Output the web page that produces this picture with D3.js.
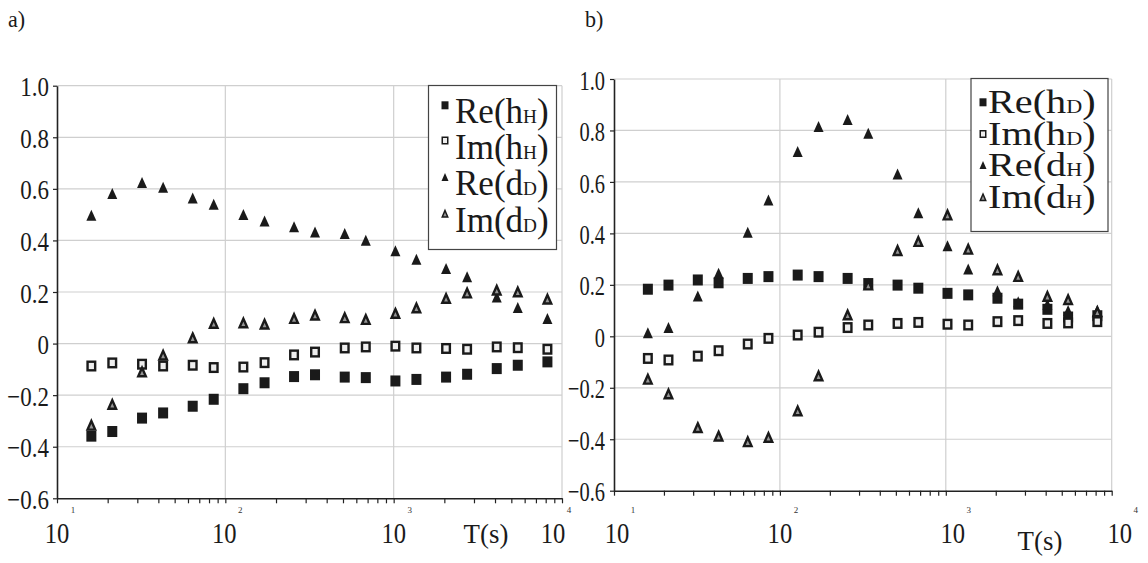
<!DOCTYPE html>
<html>
<head>
<meta charset="utf-8">
<script src="https://cdn.jsdelivr.net/npm/d3@7"></script>
<style>
  body { margin: 0; background: #fff; }
  svg { display: block; }
  svg text { font-family: "Liberation Serif", "Times New Roman", Tinos, "Noto Serif", "DejaVu Serif", serif !important; fill: #1a1a1a; }
</style>
</head>
<body>
<svg id="chart" width="1148" height="563"></svg>
<script>
// periods (s) shared by both panels
var periods = [16, 21.3, 32, 42.7, 64, 85.3, 128, 171, 256, 341, 512, 683, 1024, 1365, 2048, 2731, 4096, 5461, 8192];
var yTicks = [-0.6, -0.4, -0.2, 0, 0.2, 0.4, 0.6, 0.8, 1.0];
var decades = [1, 2, 3, 4];

// panel a)
var reHH = [-0.359, -0.341, -0.289, -0.269, -0.243, -0.216, -0.175, -0.152, -0.128, -0.121, -0.130, -0.132, -0.145, -0.139, -0.130, -0.119, -0.097, -0.084, -0.071];
var imHH = [-0.087, -0.075, -0.080, -0.087, -0.084, -0.093, -0.091, -0.074, -0.044, -0.033, -0.017, -0.013, -0.010, -0.017, -0.019, -0.022, -0.013, -0.016, -0.022];
var reDD = [0.498, 0.582, 0.625, 0.606, 0.565, 0.540, 0.501, 0.475, 0.453, 0.433, 0.427, 0.401, 0.360, 0.327, 0.291, 0.259, 0.181, 0.140, 0.097];
var imDD = [-0.317, -0.236, -0.110, -0.045, 0.022, 0.078, 0.080, 0.075, 0.097, 0.110, 0.100, 0.093, 0.117, 0.138, 0.175, 0.196, 0.207, 0.200, 0.172];
var labelsA = [["Re(h", "H", ")"], ["Im(h", "H", ")"], ["Re(d", "D", ")"], ["Im(d", "D", ")"]];

// panel b)
var reHD = [0.183, 0.199, 0.219, 0.208, 0.225, 0.232, 0.238, 0.232, 0.225, 0.205, 0.199, 0.187, 0.167, 0.161, 0.148, 0.125, 0.105, 0.075, 0.080];
var imHD = [-0.086, -0.092, -0.077, -0.056, -0.030, -0.008, 0.005, 0.016, 0.034, 0.044, 0.050, 0.054, 0.047, 0.044, 0.057, 0.061, 0.050, 0.052, 0.057];
var reDH = [0.014, 0.034, 0.157, 0.245, 0.404, 0.530, 0.718, 0.815, 0.843, 0.789, 0.631, 0.480, 0.352, 0.262, 0.177, 0.134, 0.125, 0.100, 0.100];
var imDH = [-0.167, -0.224, -0.355, -0.388, -0.410, -0.393, -0.290, -0.154, 0.083, 0.199, 0.333, 0.368, 0.471, 0.338, 0.258, 0.232, 0.155, 0.142, 0.095];
var labelsB = [["Re(h", "D", ")"], ["Im(h", "D", ")"], ["Re(d", "H", ")"], ["Im(d", "H", ")"]];

var svg = d3.select("#chart");
var kinds = ["fsq", "osq", "ftri", "otri"];

// marker helper: draws one marker shape centred on (cx, cy)
function marker(g, kind, cx, cy, w, h, sw) {
    if (kind == "fsq" || kind == "osq") {
        var open = kind == "osq";
        var s = open ? sw : 0;
        g.append("rect")
            .attr("x", cx - w / 2 + s / 2)
            .attr("y", cy - h / 2 + s / 2)
            .attr("width", w - s)
            .attr("height", h - s)
            .style("fill", open ? "#eeeeee" : "#1a1a1a")
            .style("stroke", open ? "#1a1a1a" : "none")
            .style("stroke-width", s);
    } else {
        var open = kind == "otri";
        var s = open ? sw : 0;
        var hw = w / 2 - s / 2, hh = h / 2 - s / 2;
        g.append("path")
            .attr("d", "M" + cx + "," + (cy - hh) + "L" + (cx + hw) + "," + (cy + hh) + "L" + (cx - hw) + "," + (cy + hh) + "Z")
            .style("fill", open ? "#959595" : "#1a1a1a")
            .style("stroke", open ? "#1a1a1a" : "none")
            .style("stroke-width", s);
    }
}

function drawPanel(p) {
    var x = d3.scaleLog().domain([10, 10000]).range([p.x0, p.x1]);
    var y = d3.scaleLinear().domain([-0.6, 1.0]).range([p.y0, p.y1]);
    var g = svg.append("g");

    // grid
    g.selectAll(".hgrid")
        .data(yTicks.filter(function(d) { return d > -0.6; }))
        .enter().append("line")
        .attr("x1", p.x0).attr("x2", p.x1)
        .attr("y1", function(d) { return y(d); })
        .attr("y2", function(d) { return y(d); })
        .style("stroke", "#cfcfcf").style("stroke-width", 1.2);

    g.selectAll(".vgrid")
        .data([100, 1000, 10000])
        .enter().append("line")
        .attr("x1", function(d) { return x(d); })
        .attr("x2", function(d) { return x(d); })
        .attr("y1", p.y1).attr("y2", p.y0)
        .style("stroke", "#cfcfcf").style("stroke-width", 1.2);

    // x axis with minor ticks
    var xt = [];
    for (var e = 1; e < 4; e++) for (var k = 1; k < 10; k++) xt.push(k * Math.pow(10, e));
    xt.push(10000);
    var xAxis = g.append("g")
        .attr("transform", "translate(0," + p.y0 + ")")
        .call(d3.axisBottom(x).tickValues(xt).tickSize(5).tickSizeOuter(0).tickFormat(""));
    xAxis.select(".domain").style("stroke", "#222").style("stroke-width", 1.6);
    xAxis.selectAll(".tick line").style("stroke", "#222").style("stroke-width", 1.2);

    // y axis
    var ys = p.yLabScale;
    var yAxis = g.append("g")
        .attr("transform", "translate(" + p.x0 + ",0)")
        .call(d3.axisLeft(y).tickValues(yTicks).tickSize(4).tickSizeOuter(0)
            .tickFormat(function(d) { return d == 0 ? "0" : d3.format(".1f")(d); }));
    yAxis.attr("font-family", null).attr("font-size", null);
    yAxis.select(".domain").style("stroke", "#222").style("stroke-width", 1.6);
    yAxis.selectAll(".tick line").style("stroke", "#222").style("stroke-width", 1.2);
    yAxis.selectAll(".tick text")
        .attr("x", -p.yLabGap / ys)
        .attr("dy", "0.36em")
        .attr("transform", "scale(" + ys + ",1)")
        .style("font-size", "28px")
        .style("fill", "#1a1a1a");

    // decade labels "10" with small exponent
    decades.forEach(function(e, i) {
        var cx = x(Math.pow(10, e)) + p.labNudge[i];
        g.append("text")
            .attr("transform", "translate(" + cx + "," + p.labBase + ") scale(0.82,1)")
            .attr("text-anchor", "middle")
            .style("font-size", "30px")
            .text("10");
        g.append("text")
            .attr("x", cx + 16)
            .attr("y", p.labBase - 30)
            .attr("text-anchor", "middle")
            .style("font-size", "9px")
            .style("fill", "#333")
            .text(e);
    });

    g.append("text")
        .attr("transform", "translate(" + p.tsX + "," + p.tsBase + ") scale(0.96,1)")
        .attr("text-anchor", "middle")
        .style("font-size", "28px")
        .text("T(s)");

    g.append("text")
        .attr("transform", "translate(" + p.tagX + ",27) scale(0.92,1)")
        .style("font-size", "24px")
        .text(p.tag);

    // data points
    p.series.forEach(function(vals, si) {
        var sg = g.append("g");
        vals.forEach(function(v, i) {
            marker(sg, kinds[si], x(periods[i]), y(v), 10, 11, 2.4);
        });
    });

    // legend
    var L = p.legend;
    var lg = g.append("g");
    lg.append("rect")
        .attr("x", L.x).attr("y", L.y)
        .attr("width", L.w).attr("height", L.h)
        .style("fill", "#fff")
        .style("stroke", "#444")
        .style("stroke-width", 1.2);
    p.labels.forEach(function(lab, i) {
        var base = L.base[i];
        marker(lg, kinds[i], L.mx, base - L.mOff, 7, 8, 1.5);
        var t = lg.append("text")
            .attr("transform", "translate(" + L.tx + "," + base + ") scale(" + L.sx + ",1)")
            .style("font-size", L.fs + "px");
        t.append("tspan").text(lab[0]);
        t.append("tspan").style("font-size", (L.fs * 0.55) + "px").text(lab[1]);
        t.append("tspan").text(lab[2]);
    });
}

drawPanel({
    x0: 57, x1: 562, y0: 498.3, y1: 85.7,
    yLabGap: 8, yLabScale: 0.82,
    labBase: 543, labNudge: [0, -1, 0, -9],
    tsX: 486, tsBase: 543,
    tag: "a)", tagX: 8,
    series: [reHH, imHH, reDD, imDD],
    labels: labelsA,
    legend: { x: 428.5, y: 85.5, w: 128, h: 164, mx: 445, mOff: 18, tx: 455, sx: 1,
              fs: 35, base: [123.3, 158.5, 195, 231.7] }
});

drawPanel({
    x0: 614, x1: 1111.7, y0: 490.7, y1: 79,
    yLabGap: 9, yLabScale: 0.73,
    labBase: 543, labNudge: [3, 0, 7, 8],
    tsX: 1040, tsBase: 550,
    tag: "b)", tagX: 585,
    series: [reHD, imHD, reDH, imDH],
    labels: labelsB,
    legend: { x: 971, y: 78.5, w: 137, h: 153, mx: 983, mOff: 11, tx: 988, sx: 1.22,
              fs: 33, base: [113.3, 145, 176, 208.3] }
});
</script>
</body>
</html>
